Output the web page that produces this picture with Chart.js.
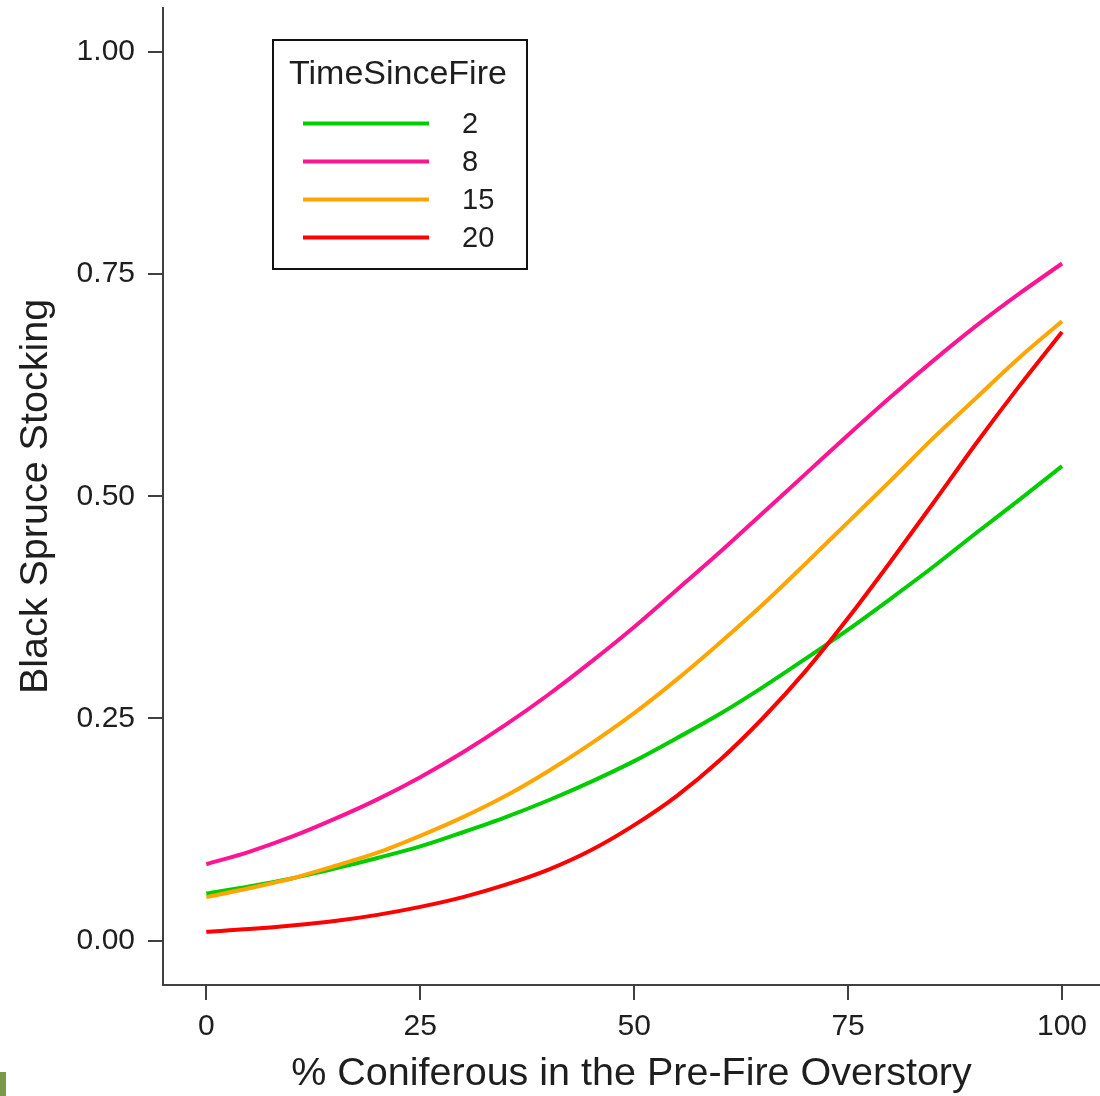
<!DOCTYPE html>
<html>
<head>
<meta charset="utf-8">
<script src="https://cdn.jsdelivr.net/npm/chart.js@4"></script>
<style>
  html, body { margin: 0; padding: 0; background: #fff; }
  #wrap { position: relative; width: 1100px; height: 1096px; overflow: hidden; }
  #corner { position: absolute; left: 0; top: 1072px; width: 6px; height: 24px; background: #7a9a4a; }
</style>
</head>
<body>
<div id="wrap">
  <canvas id="chart" width="1100" height="1096"></canvas>
  <div id="corner"></div>
</div>
<script>
// % coniferous in the pre-fire overstory
const coniferous = [0, 5, 10, 15, 20, 25, 30, 35, 40, 45, 50, 55, 60, 65, 70, 75, 80, 85, 90, 95, 100];

// black spruce stocking, one series per time since fire
const tsf2  = [0.053, 0.061, 0.070, 0.081, 0.093, 0.106, 0.122, 0.139, 0.158, 0.179, 0.202, 0.228, 0.255, 0.285, 0.317, 0.350, 0.385, 0.421, 0.459, 0.496, 0.534];
const tsf8  = [0.086, 0.100, 0.117, 0.137, 0.159, 0.184, 0.212, 0.243, 0.277, 0.314, 0.353, 0.395, 0.437, 0.481, 0.525, 0.569, 0.612, 0.653, 0.692, 0.728, 0.762];
const tsf15 = [0.049, 0.059, 0.070, 0.084, 0.099, 0.118, 0.139, 0.163, 0.191, 0.222, 0.256, 0.294, 0.335, 0.378, 0.424, 0.471, 0.518, 0.566, 0.611, 0.656, 0.697];
const tsf20 = [0.010, 0.013, 0.017, 0.022, 0.029, 0.038, 0.049, 0.063, 0.080, 0.102, 0.130, 0.163, 0.203, 0.250, 0.303, 0.363, 0.427, 0.493, 0.560, 0.624, 0.685];

const seriesLabels = ["2", "8", "15", "20"];
const xTicks = [0, 25, 50, 75, 100];
const yTicks = [0, 0.25, 0.5, 0.75, 1];

const FONT = "'Liberation Sans', Arial, Helvetica, sans-serif";
const AXIS = "#404040";
const TEXT = "#1e1e1e";

function toPoints(ys) {
  return coniferous.map((x, i) => ({ x: x, y: ys[i] }));
}

function makeSet(label, ys, color, order) {
  return {
    label: label,
    data: toPoints(ys),
    borderColor: color,
    backgroundColor: color,
    borderWidth: 4,
    pointRadius: 0,
    fill: false,
    tension: 0.4,
    cubicInterpolationMode: 'monotone',
    order: order
  };
}

// boxed legend drawn like the R one, top left of the plot
const boxLegend = {
  id: 'boxLegend',
  afterDraw(chart) {
    const ctx = chart.ctx;
    ctx.save();
    ctx.strokeStyle = "#111";
    ctx.lineWidth = 2;
    ctx.strokeRect(273, 40, 254, 229);

    ctx.fillStyle = TEXT;
    ctx.font = "34px " + FONT;
    ctx.textBaseline = 'alphabetic';
    ctx.textAlign = 'left';
    ctx.fillText("TimeSinceFire", 289, 84);

    ctx.font = "29px " + FONT;
    ctx.textBaseline = 'middle';
    chart.data.datasets.forEach((ds, i) => {
      const y = 123.5 + i * 38;
      ctx.strokeStyle = ds.borderColor;
      ctx.lineWidth = 4;
      ctx.beginPath();
      ctx.moveTo(303, y);
      ctx.lineTo(429, y);
      ctx.stroke();
      ctx.fillStyle = TEXT;
      ctx.fillText(ds.label, 462, y + 1);
    });
    ctx.restore();
  }
};

new Chart(document.getElementById('chart'), {
  type: 'line',
  data: {
    datasets: [
      makeSet(seriesLabels[0], tsf2, '#00CD00', 4),
      makeSet(seriesLabels[1], tsf8, '#FF1493', 3),
      makeSet(seriesLabels[2], tsf15, '#FFA500', 2),
      makeSet(seriesLabels[3], tsf20, '#FF0000', 1)
    ]
  },
  options: {
    responsive: false,
    animation: false,
    layout: { padding: { top: 8, right: 0, bottom: 0, left: 0 } },
    plugins: {
      legend: { display: false },
      tooltip: { enabled: false }
    },
    scales: {
      x: {
        type: 'linear',
        min: -5.06,
        max: 104.44,
        afterFit: s => { s.height = 111; s.paddingLeft = 0; s.paddingRight = 0; },
        afterBuildTicks: s => { s.ticks = xTicks.map(v => ({ value: v })); },
        grid: { drawOnChartArea: false, drawTicks: true, tickLength: 15, color: AXIS, lineWidth: 2 },
        border: { display: true, color: AXIS, width: 2 },
        ticks: {
          color: TEXT,
          padding: 9,
          maxRotation: 0,
          font: { family: FONT, size: 30 },
          callback: v => String(v)
        },
        title: {
          display: true,
          text: '% Coniferous in the Pre-Fire Overstory',
          color: TEXT,
          padding: { top: 0, bottom: 2 },
          font: { family: FONT, size: 39.5, lineHeight: 1.0 }
        }
      },
      y: {
        type: 'linear',
        min: -0.0499,
        max: 1.0495,
        afterFit: s => { s.width = 163; s.paddingTop = 0; s.paddingBottom = 0; },
        afterBuildTicks: s => { s.ticks = yTicks.map(v => ({ value: v })); },
        grid: { drawOnChartArea: false, drawTicks: true, tickLength: 15, color: AXIS, lineWidth: 2 },
        border: { display: true, color: AXIS, width: 2 },
        ticks: {
          color: TEXT,
          padding: 13,
          font: { family: FONT, size: 30 },
          callback: v => v.toFixed(2)
        },
        title: {
          display: true,
          text: 'Black Spruce Stocking',
          color: TEXT,
          padding: { top: 16, bottom: 0 },
          font: { family: FONT, size: 39.5, lineHeight: 1.0 }
        }
      }
    }
  },
  plugins: [boxLegend]
});
</script>
</body>
</html>
